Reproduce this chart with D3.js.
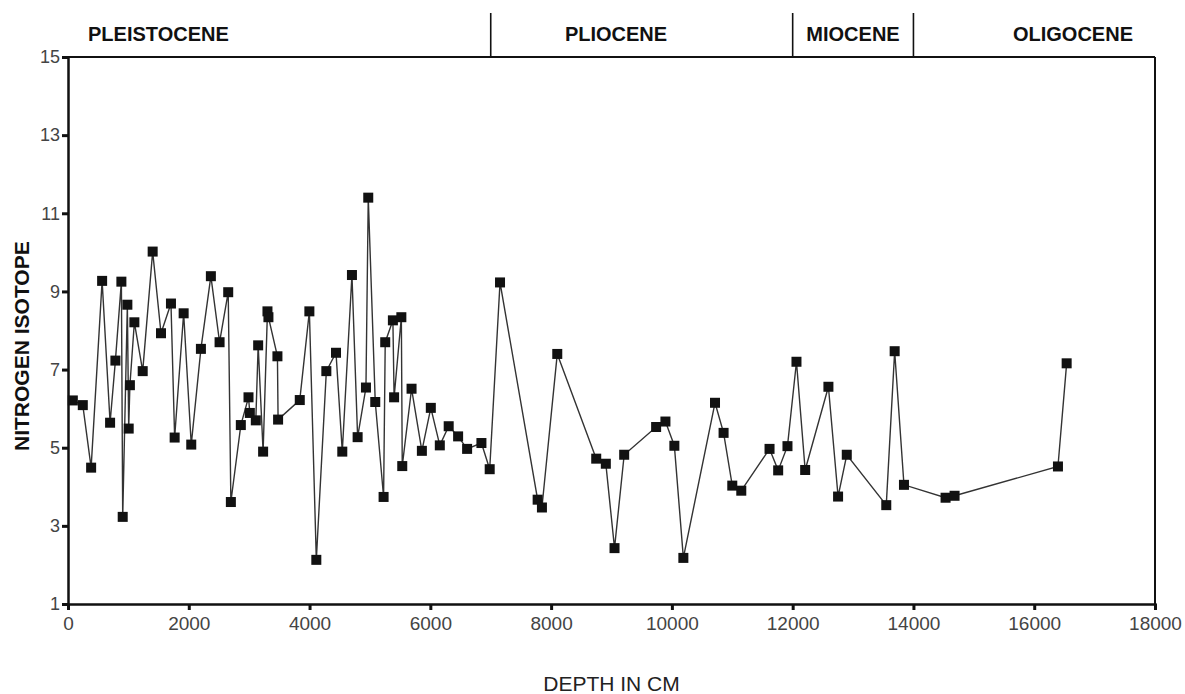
<!DOCTYPE html>
<html>
<head>
<meta charset="utf-8">
<script src="https://cdn.jsdelivr.net/npm/d3@7"></script>
<style>
  body { margin: 0; background: #fff; }
  #chart { width: 1185px; height: 694px; }
  text { font-family: "Liberation Sans", Arial, sans-serif; }
</style>
</head>
<body>
<div id="chart"></div>
<script>
// data
const depth = [80, 245, 383, 565, 697, 785, 884, 906, 983, 1005, 1025, 1099, 1237, 1402, 1540,
    1705, 1766, 1915, 2041, 2201, 2366, 2510, 2653, 2697, 2862, 2989, 3011, 3110, 3149, 3231,
    3303, 3319, 3468, 3479, 3838, 3997, 4112, 4278, 4438, 4542, 4702, 4796, 4934, 4972, 5088,
    5226, 5253, 5380, 5400, 5520, 5535, 5689, 5860, 6008, 6157, 6304, 6460, 6609, 6846, 6983,
    7154, 7777, 7848, 8102, 8747, 8906, 9050, 9210, 9739, 9893, 10041, 10190, 10714, 10856, 11000,
    11149, 11617, 11760, 11914, 12063, 12207, 12592, 12752, 12896, 13550, 13689, 13843, 14532, 14681, 16393,
    16537];
const isotope = [6.21, 6.09, 4.49, 9.27, 5.64, 7.23, 9.25, 3.23, 8.66, 5.49, 6.60, 8.21, 6.96, 10.02, 7.93,
    8.69, 5.26, 8.44, 5.08, 7.53, 9.39, 7.70, 8.98, 3.61, 5.58, 6.29, 5.89, 5.70, 7.62, 4.90,
    8.49, 8.34, 7.34, 5.72, 6.22, 8.49, 2.13, 6.96, 7.43, 4.90, 9.42, 5.27, 6.54, 11.40, 6.17,
    3.74, 7.70, 8.26, 6.29, 8.34, 4.53, 6.51, 4.92, 6.02, 5.06, 5.55, 5.29, 4.97, 5.12, 4.45,
    9.23, 3.67, 3.47, 7.40, 4.72, 4.59, 2.43, 4.82, 5.53, 5.67, 5.05, 2.18, 6.15, 5.38, 4.03,
    3.90, 4.97, 4.42, 5.04, 7.20, 4.43, 6.56, 3.75, 4.82, 3.53, 7.47, 4.05, 3.72, 3.77, 4.52,
    7.16];

// epochs and their boundaries (depth in cm)
const epochs = ["PLEISTOCENE", "PLIOCENE", "MIOCENE", "OLIGOCENE"];
const epochBounds = [7000, 12000, 14000];

const xTicks = [0, 2000, 4000, 6000, 8000, 10000, 12000, 14000, 16000, 18000];
const yTicks = [1, 3, 5, 7, 9, 11, 13, 15];

// layout
const width = 1185, height = 694;
const margin = { top: 57, right: 30, bottom: 90, left: 68 };

const x = d3.scaleLinear()
    .domain([0, 18000])
    .range([margin.left, width - margin.right]);

const y = d3.scaleLinear()
    .domain([1, 15])
    .range([height - margin.bottom, margin.top]);

const svg = d3.select("#chart")
    .append("svg")
    .attr("width", width)
    .attr("height", height);

// frame: top and right lines
svg.append("line")
    .attr("x1", x(0)).attr("x2", x(18000))
    .attr("y1", y(15)).attr("y2", y(15))
    .attr("stroke", "#111").attr("stroke-width", 2);
svg.append("line")
    .attr("x1", x(18000)).attr("x2", x(18000))
    .attr("y1", y(15)).attr("y2", y(1))
    .attr("stroke", "#111").attr("stroke-width", 2);

// epoch dividers above the plot
svg.append("g")
    .selectAll("line")
    .data(epochBounds)
    .enter().append("line")
    .attr("x1", d => x(d)).attr("x2", d => x(d))
    .attr("y1", 13).attr("y2", y(15))
    .attr("stroke", "#111").attr("stroke-width", 1.6);

// epoch label placement
const labelX = [x(0) + 20, 616, 853, 1073];
const labelAnchor = ["start", "middle", "middle", "middle"];
svg.append("g")
    .selectAll("text")
    .data(epochs)
    .enter().append("text")
    .attr("x", (d, i) => labelX[i])
    .attr("y", 41)
    .attr("text-anchor", (d, i) => labelAnchor[i])
    .attr("font-size", 20)
    .attr("font-weight", "bold")
    .attr("fill", "#111")
    .text(d => d);

// axes
const xAxis = svg.append("g")
    .attr("transform", `translate(0,${y(1)})`)
    .call(d3.axisBottom(x).tickValues(xTicks).tickSize(6).tickPadding(7).tickFormat(d3.format("d")));

const yAxis = svg.append("g")
    .attr("transform", `translate(${x(0)},0)`)
    .call(d3.axisLeft(y).tickValues(yTicks).tickSize(6).tickPadding(2));

[xAxis, yAxis].forEach(function(ax) {
    ax.select(".domain").attr("stroke", "#111").attr("stroke-width", 2.5);
    ax.selectAll(".tick line").attr("stroke", "#111").attr("stroke-width", 3);
    ax.selectAll(".tick text")
        .attr("fill", "#444")
        .style("font-family", "'Liberation Sans', Arial, sans-serif");
});
xAxis.selectAll(".tick text").attr("font-size", 19);
yAxis.selectAll(".tick text").attr("font-size", 18);

// axis titles
svg.append("text")
    .attr("x", x(9000))
    .attr("y", 691)
    .attr("text-anchor", "middle")
    .attr("font-size", 21)
    .attr("fill", "#222")
    .text("DEPTH IN CM");

svg.append("text")
    .attr("transform", `translate(29,${y(7.6)}) rotate(-90)`)
    .attr("text-anchor", "middle")
    .attr("font-size", 21)
    .attr("font-weight", "bold")
    .attr("fill", "#111")
    .text("NITROGEN ISOTOPE");

// the series
const points = depth.map((d, i) => [d, isotope[i]]);

const line = d3.line()
    .x(d => x(d[0]))
    .y(d => y(d[1]));

svg.append("path")
    .datum(points)
    .attr("d", line)
    .attr("fill", "none")
    .attr("stroke", "#333")
    .attr("stroke-width", 1.4);

const sq = 10;
svg.append("g")
    .selectAll("rect")
    .data(points)
    .enter().append("rect")
    .attr("x", d => x(d[0]) - sq / 2)
    .attr("y", d => y(d[1]) - sq / 2)
    .attr("width", sq)
    .attr("height", sq)
    .attr("fill", "#111");
</script>
</body>
</html>
